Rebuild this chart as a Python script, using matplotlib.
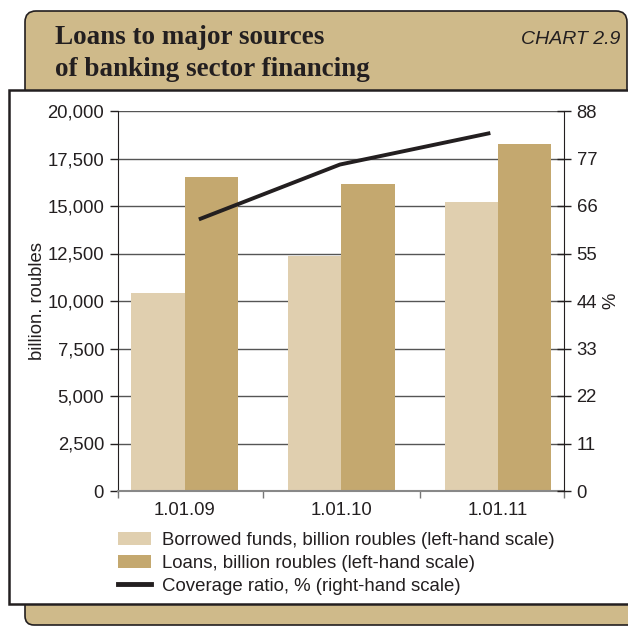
import numpy as np
import matplotlib
matplotlib.use("Agg")
import matplotlib.pyplot as plt
from matplotlib.patches import FancyBboxPatch, Rectangle, Patch
from matplotlib.lines import Line2D

plt.rcParams['font.family'] = ['Liberation Sans', 'DejaVu Sans']

# data, billion roubles and %
dates = ['1.01.09', '1.01.10', '1.01.11']
borrowed = [10420, 12380, 15210]
loans = [16530, 16160, 18260]
coverage = [62.9, 75.6, 82.9]

left_ticks = [0, 2500, 5000, 7500, 10000, 12500, 15000, 17500, 20000]
right_ticks = [0, 11, 22, 33, 44, 55, 66, 77, 88]

tan = '#CFBA8A'
light = '#E0CFAF'
dark = '#C4A86F'
ink = '#231F20'

W, H = 628, 626
fig = plt.figure(figsize=(W / 100, H / 100), dpi=100)

# frame drawn in pixel units
bg = fig.add_axes([0, 0, 1, 1])
bg.set_xlim(0, W)
bg.set_ylim(H, 0)
bg.axis('off')
bg.add_patch(FancyBboxPatch((25, 11), 602, 120, boxstyle='round,pad=0,rounding_size=11',
                            fc=tan, ec=ink, lw=1.2))
bg.add_patch(FancyBboxPatch((25, 560), 640, 65, boxstyle='round,pad=0,rounding_size=9',
                            fc=tan, ec=ink, lw=1.2))
bg.add_patch(Rectangle((9, 90), 660, 514, fc='white', ec=ink, lw=1.8))

title_font = dict(fontfamily='Liberation Serif', fontweight='bold', fontsize=19.5,
                  color=ink, va='baseline')
bg.text(55, 44, 'Loans to major sources', **title_font)
bg.text(55, 76, 'of banking sector financing', **title_font)
bg.text(620, 44, 'CHART 2.9', fontsize=14, fontstyle='italic', color=ink,
        ha='right', va='baseline')

ax = fig.add_axes([118 / W, 1 - 491 / H, 446 / W, 380 / H])
x = np.arange(len(dates))
bw = 0.34
ax.bar(x - bw / 2, borrowed, bw, color=light, zorder=2)
ax.bar(x + bw / 2, loans, bw, color=dark, zorder=2)

ax.set_xlim(-0.426, 2.42)
ax.set_ylim(0, 20000)
ax.set_yticks(left_ticks)
ax.set_yticklabels([f'{v:,}' for v in left_ticks])
ax.yaxis.grid(True, color='#555555', lw=1.0, zorder=1)
ax.set_axisbelow(True)
ax.tick_params(axis='y', direction='out', length=6, width=1, color=ink,
               labelsize=13.3, labelcolor=ink, pad=4)
ax.set_xticks([-0.426, 0.5, 1.5, 2.42])
ax.set_xticklabels([])
ax.set_xticks(x, minor=True)
ax.set_xticklabels(dates, minor=True)
ax.tick_params(axis='x', which='major', direction='out', length=5, width=1, color='#777777')
ax.tick_params(axis='x', which='minor', length=0, labelsize=13.3, labelcolor=ink, pad=8)
ax.set_ylabel('billion. roubles', fontsize=13.3, color=ink, labelpad=1)
ax.spines['top'].set_visible(False)
ax.spines['right'].set_visible(False)
ax.spines['left'].set_color(ink)
ax.spines['bottom'].set_color('#888888')
ax.spines['bottom'].set_linewidth(1.5)

ax2 = ax.twinx()
ax2.set_ylim(0, 88)
ax2.set_yticks(right_ticks)
ax2.plot([0.09, 0.99, 1.95], coverage, color=ink, lw=2.8, solid_capstyle='butt', zorder=3)
ax2.tick_params(axis='y', direction='inout', length=10, width=1, color=ink,
                labelsize=13.3, labelcolor=ink, pad=4)
ax2.set_ylabel('%', fontsize=13.3, color=ink)
ax2.yaxis.set_label_coords(1.087, 0.5)
for s in ['top', 'left', 'bottom']:
    ax2.spines[s].set_visible(False)
ax2.spines['right'].set_color(ink)

handles = [Patch(fc=light, ec='none'), Patch(fc=dark, ec='none'),
           Line2D([], [], color=ink, lw=3.5)]
labels = ['Borrowed funds, billion roubles (left-hand scale)',
          'Loans, billion roubles (left-hand scale)',
          'Coverage ratio, % (right-hand scale)']
fig.legend(handles, labels, loc='upper left', bbox_to_anchor=(118 / W, 1 - 532 / H),
           frameon=False, fontsize=13.4, handlelength=1.75, handleheight=0.7,
           handletextpad=0.6, labelspacing=0.31, borderpad=0, borderaxespad=0,
           labelcolor=ink)

fig.savefig('out.png', dpi=100)
